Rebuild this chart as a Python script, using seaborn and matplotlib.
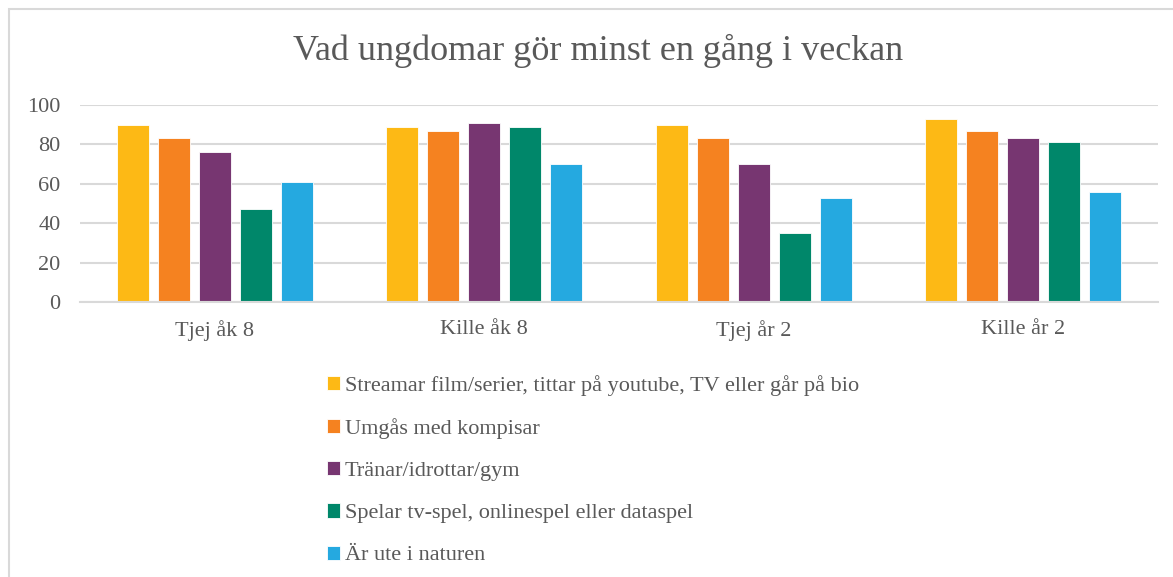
import matplotlib
matplotlib.use("Agg")
import matplotlib.pyplot as plt
from matplotlib.patches import Rectangle
import pandas as pd
import seaborn as sns

groups = ["Tjej åk 8", "Kille åk 8", "Tjej år 2", "Kille år 2"]
activities = [
    "Streamar film/serier, tittar på youtube, TV eller går på bio",
    "Umgås med kompisar",
    "Tränar/idrottar/gym",
    "Spelar tv-spel, onlinespel eller dataspel",
    "Är ute i naturen",
]
streamar = [90, 89, 90, 93]
umgas = [83, 87, 83, 87]
tranar = [76, 91, 70, 83]
spelar = [47, 89, 35, 81]
natur = [61, 70, 53, 56]
colors = ["#FDB915", "#F58220", "#773671", "#00876A", "#25A9E0"]

series = [streamar, umgas, tranar, spelar, natur]
rows = []
for act, vals in zip(activities, series):
    for g, v in zip(groups, vals):
        rows.append({"grupp": g, "aktivitet": act, "andel": v})
df = pd.DataFrame(rows)

sns.set_theme(style="white")
plt.rcParams["font.family"] = ["Liberation Serif", "DejaVu Serif"]
grey = "#595959"

fig = plt.figure(figsize=(11.73, 5.77), dpi=100)
ax = fig.add_axes([80 / 1173, 1 - 302 / 577, 1078 / 1173, 197 / 577])

sns.barplot(data=df, x="grupp", y="andel", hue="aktivitet", order=groups,
            hue_order=activities, palette=colors, saturation=1, width=0.76,
            gap=0.22, ax=ax, legend=True, edgecolor="white", linewidth=0.6)

ax.set_ylim(0, 100)
ax.set_yticks(range(0, 101, 20))
ax.yaxis.grid(True, color="#D9D9D9", linewidth=1.5)
ax.set_axisbelow(True)
for s in ["top", "right", "left"]:
    ax.spines[s].set_visible(False)
ax.spines["bottom"].set_color("#D9D9D9")
ax.spines["bottom"].set_linewidth(1.5)
ax.tick_params(axis="y", length=0, pad=14, labelsize=16, labelcolor=grey)
ax.tick_params(axis="x", length=0, pad=13, labelsize=16, labelcolor=grey)
ax.set_xlabel("")
ax.set_ylabel("")

fig.text(598 / 1173, 1 - 51 / 577, "Vad ungdomar gör minst en gång i veckan",
         ha="center", va="center", fontsize=26, color=grey)

handles, labels = ax.get_legend_handles_labels()
ax.legend_.remove()
fig.legend(handles, labels, loc="upper left",
           bbox_to_anchor=(316 / 1173, 1 - 364 / 577), frameon=False,
           fontsize=16, labelcolor=grey, handlelength=0.6, handleheight=0.6,
           handletextpad=0.2, labelspacing=1.0, borderpad=0)

fig.patches.append(Rectangle((9 / 1173, -0.1), 1.2, 1 - 9 / 577 + 0.1,
                             transform=fig.transFigure, fill=False,
                             edgecolor="#D9D9D9", linewidth=1.5))

fig.savefig("out.png", dpi=100)
